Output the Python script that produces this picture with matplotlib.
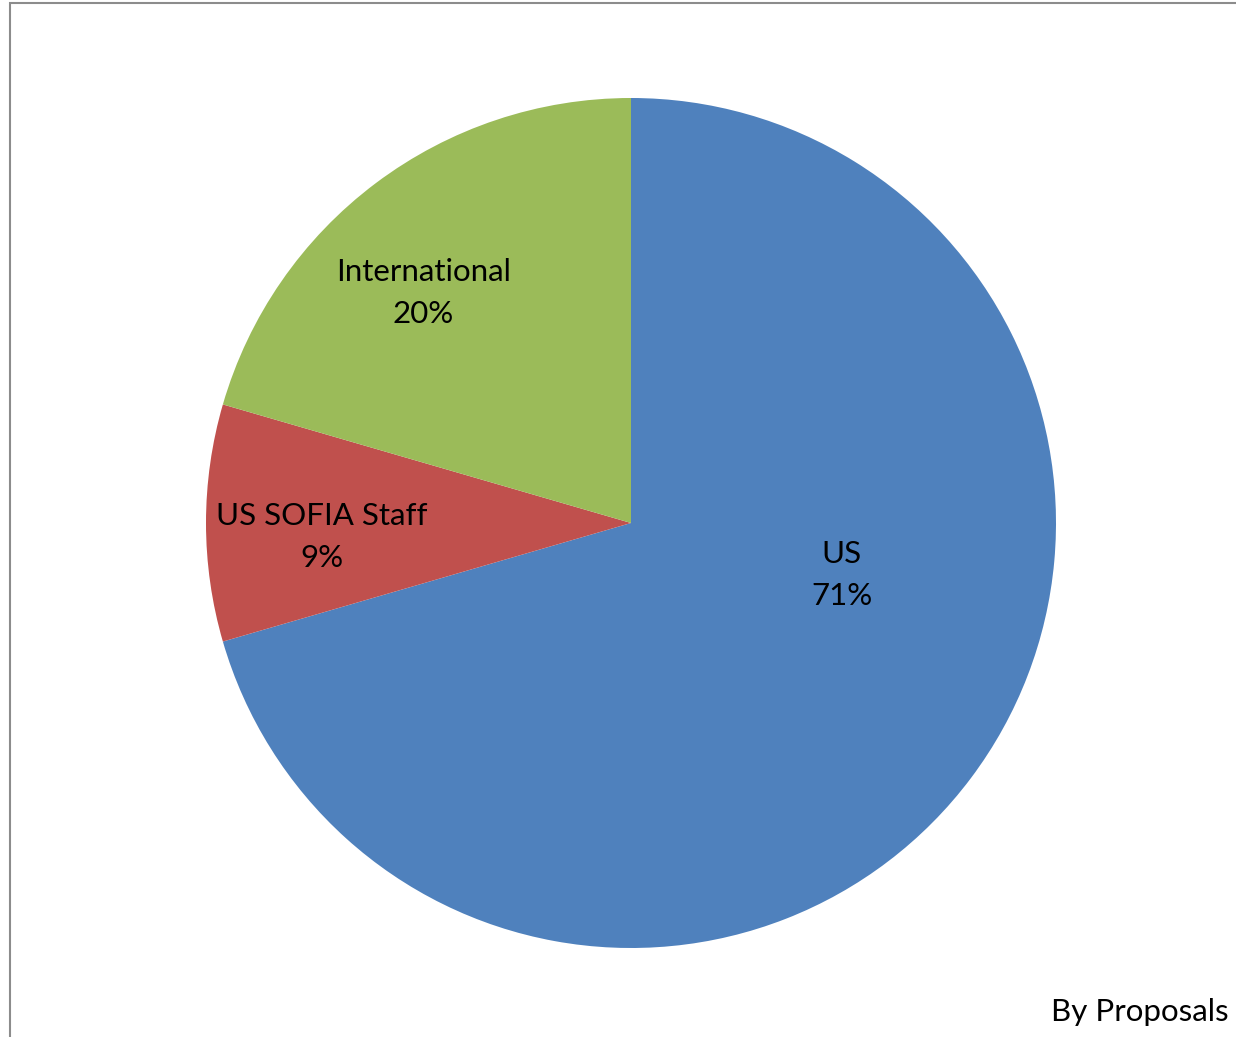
import matplotlib
matplotlib.use("Agg")
import matplotlib.pyplot as plt
from matplotlib.patches import Rectangle

categories = ["US", "US SOFIA Staff", "International"]
values = [70.5, 9.0, 20.5]
pct_labels = ["71%", "9%", "20%"]
colors = ["#4F81BD", "#C0504D", "#9BBB59"]

plt.rcParams['font.family'] = ['Lato', 'DejaVu Sans']

W, H = 1236, 1037
fig = plt.figure(figsize=(W / 100, H / 100), dpi=100)
fig.patch.set_facecolor("white")

# frame
fig.add_artist(Rectangle((10 / W, -0.1), 1.2, 1 - 3 / H + 0.1, transform=fig.transFigure,
                         fill=False, edgecolor="#8c8c8c", linewidth=1.5))

cx, cy, r = 631, 1037 - 523, 425
ax = fig.add_axes([(cx - r) / W, (cy - r) / H, 2 * r / W, 2 * r / H])
ax.pie(values, colors=colors, startangle=90, counterclock=False,
       wedgeprops=dict(linewidth=0))
ax.set_xlim(-1, 1)
ax.set_ylim(-1, 1)
ax.set_aspect("equal")
ax.axis("off")

label_pos = [(0.496, -0.122), (-0.727, -0.033), (-0.489, 0.541)]
for name, p, (x, y) in zip(categories, pct_labels, label_pos):
    ax.text(x, y, f"{name}\n{p}", ha="center", va="center", fontsize=22.5,
            color="black", linespacing=1.6)

fig.text(1051 / W, 1 - 1012 / H, "By Proposals", ha="left", va="center",
         fontsize=22.5, color="black")

fig.savefig("out.png", dpi=100)
